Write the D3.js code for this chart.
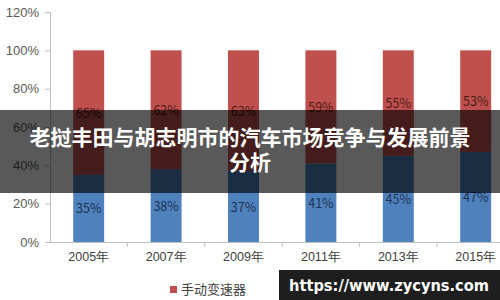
<!DOCTYPE html>
<html lang="zh">
<head>
<meta charset="utf-8">
<script src="https://cdn.jsdelivr.net/npm/d3@7"></script>
<style>
  body { margin:0; background:#fff; }
  svg { display:block; font-family:"Noto Sans CJK SC","Noto Sans",sans-serif; }
</style>
</head>
<body>
<svg class="chart"></svg>
<script>
var years = ['2005年','2007年','2009年','2011年','2013年','2015年'];
var autoShare = [35, 38, 37, 41, 45, 47];     // blue, bottom
var manualShare = [65, 62, 63, 59, 55, 53];   // red, top
var yTicks = [0, 20, 40, 60, 80, 100, 120];
var legendName = '手动变速器';
var title = ['老挝丰田与胡志明市的汽车市场竞争与发展前景', '分析'];
var watermark = 'https://www.zycyns.com';

var W = 500, H = 300;
var svg = d3.select('.chart').attr('width', W).attr('height', H);

var x = d3.scaleBand().domain(years).range([50, 514.4]).paddingInner(0.6).paddingOuter(0.3);
var y = d3.scaleLinear().domain([0,120]).range([242, 12]);

// y axis
var yAxis = svg.append('g').attr('transform','translate(50,0)')
  .call(d3.axisLeft(y).tickValues(yTicks).tickSize(5).tickFormat(function(d){return d+'%'}));
yAxis.select('.domain').attr('stroke','#bfbfbf');
yAxis.selectAll('line').attr('stroke','#bfbfbf');
yAxis.selectAll('text').attr('fill','#595959').style('font-size','13px').attr('x',-11);

// x axis
var xAxis = svg.append('g').attr('transform','translate(0,242)')
  .call(d3.axisBottom(x).tickSize(0).tickPadding(10));
xAxis.select('.domain').attr('stroke','#bfbfbf');
xAxis.selectAll('text').attr('fill','#404040').style('font-size','12.5px');
var step = x.step();
svg.append('g').selectAll('line').data(years).enter().append('line')
  .attr('x1', function(d){return x(d) - (step - x.bandwidth())/2 + step})
  .attr('x2', function(d){return x(d) - (step - x.bandwidth())/2 + step})
  .attr('y1', 242).attr('y2', 247).attr('stroke','#bfbfbf');

// bars
var bars = svg.append('g');
bars.selectAll('rect.auto').data(autoShare).enter().append('rect')
  .attr('x', function(d,i){return x(years[i])})
  .attr('width', x.bandwidth())
  .attr('y', function(d){return y(d)})
  .attr('height', function(d){return y(0)-y(d)})
  .attr('fill','#4f81bd');
bars.selectAll('rect.manual').data(manualShare).enter().append('rect')
  .attr('x', function(d,i){return x(years[i])})
  .attr('width', x.bandwidth())
  .attr('y', function(d,i){return y(autoShare[i]+d)})
  .attr('height', function(d){return y(0)-y(d)})
  .attr('fill','#c0504d');

bars.selectAll('text.a').data(autoShare).enter().append('text')
  .attr('x', function(d,i){return x(years[i]) + x.bandwidth()/2})
  .attr('y', function(d){return (y(0)+y(d))/2 + 5})
  .attr('text-anchor','middle').style('font-size','12.5px').attr('fill','#1c3352')
  .text(function(d){return d+'%'});
bars.selectAll('text.m').data(manualShare).enter().append('text')
  .attr('x', function(d,i){return x(years[i]) + x.bandwidth()/2})
  .attr('y', function(d,i){return (y(autoShare[i])+y(autoShare[i]+d))/2 + 5})
  .attr('text-anchor','middle').style('font-size','12.5px').attr('fill','#4a1a19')
  .text(function(d){return d+'%'});

// legend
var legend = svg.append('g').attr('transform','translate(170,286)');
legend.append('rect').attr('width',7).attr('height',7).attr('fill','#c0504d');
legend.append('text').attr('x',11).attr('y',8).style('font-size','13px').attr('fill','#404040').text(legendName);

// title banner
svg.append('rect').attr('x',0).attr('y',110).attr('width',W).attr('height',83)
  .attr('fill','rgba(0,0,0,0.65)');
svg.append('g').selectAll('text').data(title).enter().append('text')
  .attr('x', 250).attr('y', function(d,i){return 145 + i*25})
  .attr('text-anchor','middle').attr('fill','#fff')
  .style('font-size','21px').style('font-weight','bold')
  .text(function(d){return d});

// watermark
svg.append('rect').attr('x',279).attr('y',270).attr('width',221).attr('height',30).attr('fill','#1e1e1e');
svg.append('text').attr('x',289).attr('y',291)
  .attr('textLength',200).attr('lengthAdjust','spacingAndGlyphs')
  .attr('fill','#fff').style('font-size','15px').style('font-weight','bold')
  .style('font-family','"DejaVu Sans",sans-serif').text(watermark);
</script>
</body>
</html>
